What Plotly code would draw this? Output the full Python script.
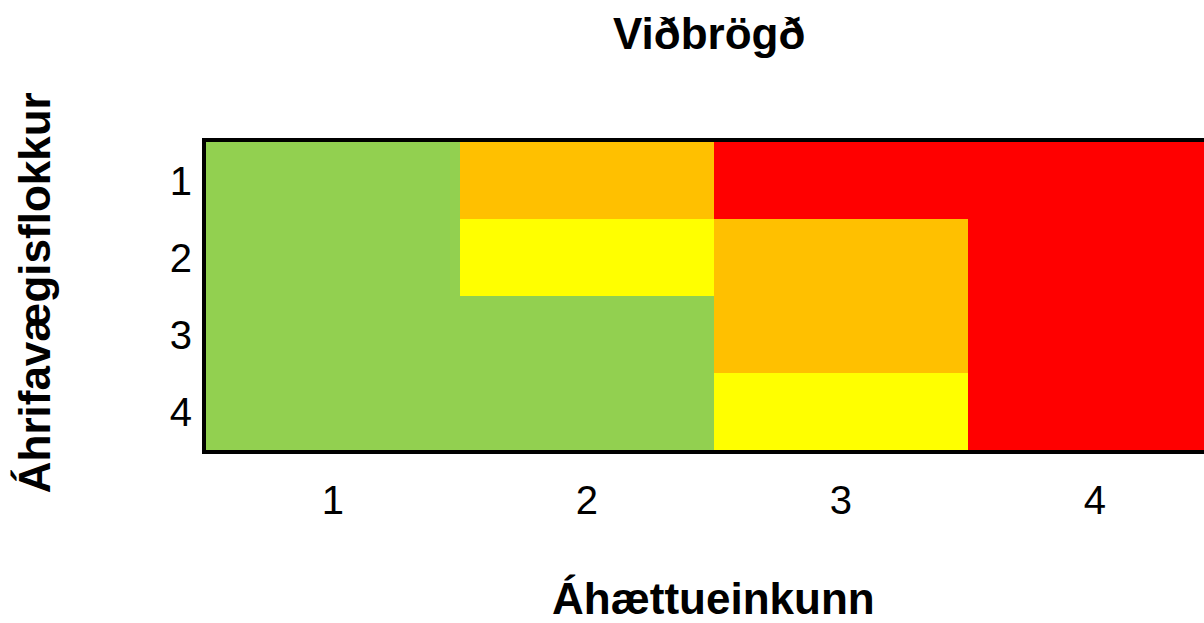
import plotly.graph_objects as go

# Data
x_labels = ["1", "2", "3", "4"]          # Áhættueinkunn
y_labels = ["1", "2", "3", "4"]          # Áhrifavægisflokkur
# response level per cell: 0 = green, 1 = yellow, 2 = orange, 3 = red
row_1 = [0, 2, 3, 3]
row_2 = [0, 1, 2, 3]
row_3 = [0, 0, 2, 3]
row_4 = [0, 0, 1, 3]
level_colors = ["#92D050", "#FFFF00", "#FFC000", "#FF0000"]

z = [row_1, row_2, row_3, row_4]
n = len(level_colors)
colorscale = []
for i, c in enumerate(level_colors):
    colorscale.append([i / n, c])
    colorscale.append([(i + 1) / n, c])

FONT = "Liberation Sans, Arial, sans-serif"

fig = go.Figure(
    go.Heatmap(
        x=x_labels,
        y=y_labels,
        z=z,
        zmin=-0.5,
        zmax=n - 0.5,
        colorscale=colorscale,
        showscale=False,
        hoverinfo="skip",
    )
)

fig.update_layout(
    width=1204,
    height=623,
    margin=dict(l=206, r=0, t=142, b=173),
    paper_bgcolor="white",
    plot_bgcolor="white",
    font=dict(family=FONT, color="black"),
    showlegend=False,
)

fig.update_xaxes(
    type="category",
    range=[-0.5, 3.43],
    showgrid=False,
    zeroline=False,
    showline=True,
    linewidth=4,
    linecolor="black",
    mirror=True,
    ticks="",
    ticklabelstandoff=12,
    tickfont=dict(size=40, family=FONT, color="black"),
)
fig.update_yaxes(
    type="category",
    range=[3.5, -0.5],
    showgrid=False,
    zeroline=False,
    showline=True,
    linewidth=4,
    linecolor="black",
    mirror=False,
    ticks="",
    ticklabelstandoff=2,
    tickfont=dict(size=40, family=FONT, color="black"),
)

title_font = dict(size=44, family=FONT, color="black", weight="bold")
fig.add_annotation(text="Viðbrögð", xref="paper", yref="paper",
                   x=0.504, y=1.352, xanchor="center", yanchor="middle",
                   showarrow=False, font=title_font)
fig.add_annotation(text="Áhættueinkunn", xref="paper", yref="paper",
                   x=0.509, y=-0.482, xanchor="center", yanchor="middle",
                   showarrow=False, font=title_font)
fig.add_annotation(text="Áhrifavægisflokkur", xref="paper", yref="paper",
                   x=-0.171, y=0.51, xanchor="center", yanchor="middle",
                   textangle=-90, showarrow=False, font=title_font)

fig.write_html(
    "out.html",
    config={"displayModeBar": False},
    post_script="document.body.style.margin='0';document.body.style.overflow='hidden';",
)
